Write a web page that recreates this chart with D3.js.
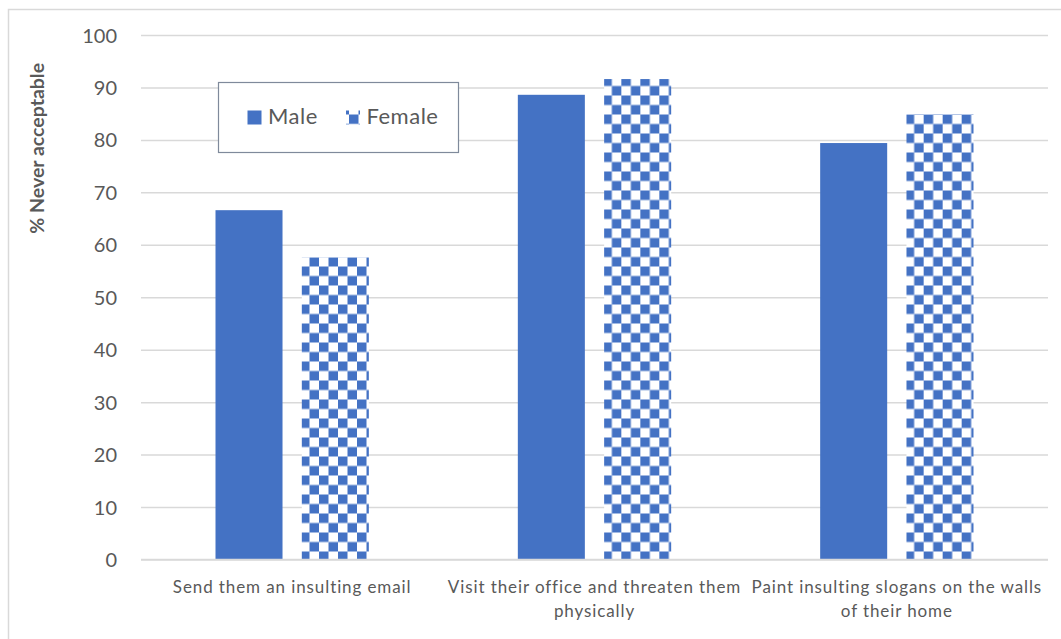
<!DOCTYPE html>
<html>
<head>
<meta charset="utf-8">
<script src="https://cdn.jsdelivr.net/npm/d3@7"></script>
<style>
  html, body { margin: 0; padding: 0; background: #ffffff; }
  svg { display: block; }
  text { font-family: "Lato", "Carlito", "Calibri", sans-serif; }
</style>
</head>
<body>
<svg id="chart" width="1061" height="639"></svg>
<script>
// Share of respondents saying each action is never acceptable, by gender
const categories = [
  ["Send them an insulting email"],
  ["Visit their office and threaten them", "physically"],
  ["Paint insulting slogans on the walls", "of their home"]
];
const series = ["Male", "Female"];
const maleValues = [66.6, 88.6, 79.4];
const femaleValues = [57.6, 91.6, 84.9];
const yTicks = [0, 10, 20, 30, 40, 50, 60, 70, 80, 90, 100];
const yTitle = "% Never acceptable";

const blue = "#4472c4";
const gridColor = "#d9d9d9";
const textColor = "#595959";

const svg = d3.select("#chart");
const plot = { left: 141, right: 1048, top: 35, bottom: 559.5 };

// checkerboard fill for the Female series
const defs = svg.append("defs");
const pat = defs.append("pattern")
  .attr("id", "checker")
  .attr("patternUnits", "userSpaceOnUse")
  .attr("x", 7).attr("y", 0.5)
  .attr("width", 19).attr("height", 19);
pat.append("rect").attr("x", 0).attr("y", 0).attr("width", 19).attr("height", 19).attr("fill", "#ffffff");
pat.append("rect").attr("x", 0).attr("y", 0).attr("width", 9.5).attr("height", 9.5).attr("fill", blue);
pat.append("rect").attr("x", 9.5).attr("y", 9.5).attr("width", 9.5).attr("height", 9.5).attr("fill", blue);

// outer chart frame
svg.append("rect")
  .attr("x", 8.5).attr("y", 9.5)
  .attr("width", 1100).attr("height", 700)
  .attr("fill", "none").attr("stroke", gridColor).attr("stroke-width", 1.5);

const y = d3.scaleLinear().domain([0, 100]).range([plot.bottom, plot.top]);
const x0 = d3.scaleBand().domain(d3.range(categories.length)).range([plot.left, plot.right]);
const outerPad = 74.5, barGap = 19.3;
const innerSpan = x0.bandwidth() - 2 * outerPad;
const innerStep = (innerSpan + barGap) / series.length;
const x1 = d3.scaleBand().domain(series)
  .range([outerPad, outerPad + innerSpan])
  .paddingInner(barGap / innerStep);

// horizontal gridlines and y tick labels
const yAxis = d3.axisLeft(y).tickValues(yTicks).tickSize(-(plot.right - plot.left)).tickPadding(24);
const gy = svg.append("g").attr("transform", `translate(${plot.left},0)`).call(yAxis);
gy.select(".domain").remove();
gy.selectAll(".tick line").attr("stroke", gridColor).attr("stroke-width", 1.5);
gy.selectAll(".tick text")
  .attr("fill", textColor)
  .style("font-size", "20px")
  .attr("dy", "0.35em");

// y-axis title
svg.append("text")
  .attr("transform", `translate(44,${(plot.top + plot.bottom) / 2 - 149}) rotate(-90)`)
  .attr("text-anchor", "middle")
  .attr("fill", textColor)
  .style("font-size", "19.5px")
  .style("font-weight", "bold")
  .text(yTitle);

// bars
const rows = categories.map((c, i) => ({ i, values: [maleValues[i], femaleValues[i]] }));
const groups = svg.append("g").selectAll("g").data(rows).join("g")
  .attr("transform", d => `translate(${x0(d.i)},0)`);
groups.selectAll("rect")
  .data(d => series.map((s, k) => ({ s, v: d.values[k] })))
  .join("rect")
  .attr("x", d => x1(d.s))
  .attr("y", d => y(d.v))
  .attr("width", x1.bandwidth())
  .attr("height", d => y(0) - y(d.v))
  .attr("fill", d => d.s === "Male" ? blue : "url(#checker)");

// category axis line
svg.append("line")
  .attr("x1", plot.left).attr("x2", plot.right)
  .attr("y1", y(0)).attr("y2", y(0))
  .attr("stroke", gridColor).attr("stroke-width", 1.5);

// category labels
const xAxis = d3.axisBottom(x0).tickSize(0).tickFormat("");
const gx = svg.append("g").attr("transform", `translate(0,${y(0)})`).call(xAxis);
gx.select(".domain").remove();
gx.selectAll(".tick").each(function(d) {
  const t = d3.select(this).append("text")
    .attr("text-anchor", "middle")
    .attr("fill", textColor)
    .style("font-size", "17px")
    .style("letter-spacing", "0.9px");
  categories[d].forEach((line, k) => {
    t.append("tspan").attr("x", 0).attr("y", 33.5 + k * 24).text(line);
  });
});

// legend
const lg = svg.append("g");
lg.append("rect")
  .attr("x", 218.5).attr("y", 82.5).attr("width", 240).attr("height", 70)
  .attr("fill", "#ffffff").attr("stroke", "#7f8a9b").attr("stroke-width", 1.2);
const legendItems = [
  { s: "Male", sx: 247.5, tx: 268 },
  { s: "Female", sx: 346, tx: 366.5 }
];
legendItems.forEach(it => {
  lg.append("rect")
    .attr("x", it.sx).attr("y", 110.5).attr("width", 14).attr("height", 14)
    .attr("fill", it.s === "Male" ? blue : "url(#checker)");
  lg.append("text")
    .attr("x", it.tx).attr("y", 124)
    .attr("fill", textColor)
    .style("font-size", "22px")
    .style("letter-spacing", "0.5px")
    .text(it.s);
});
</script>
</body>
</html>
